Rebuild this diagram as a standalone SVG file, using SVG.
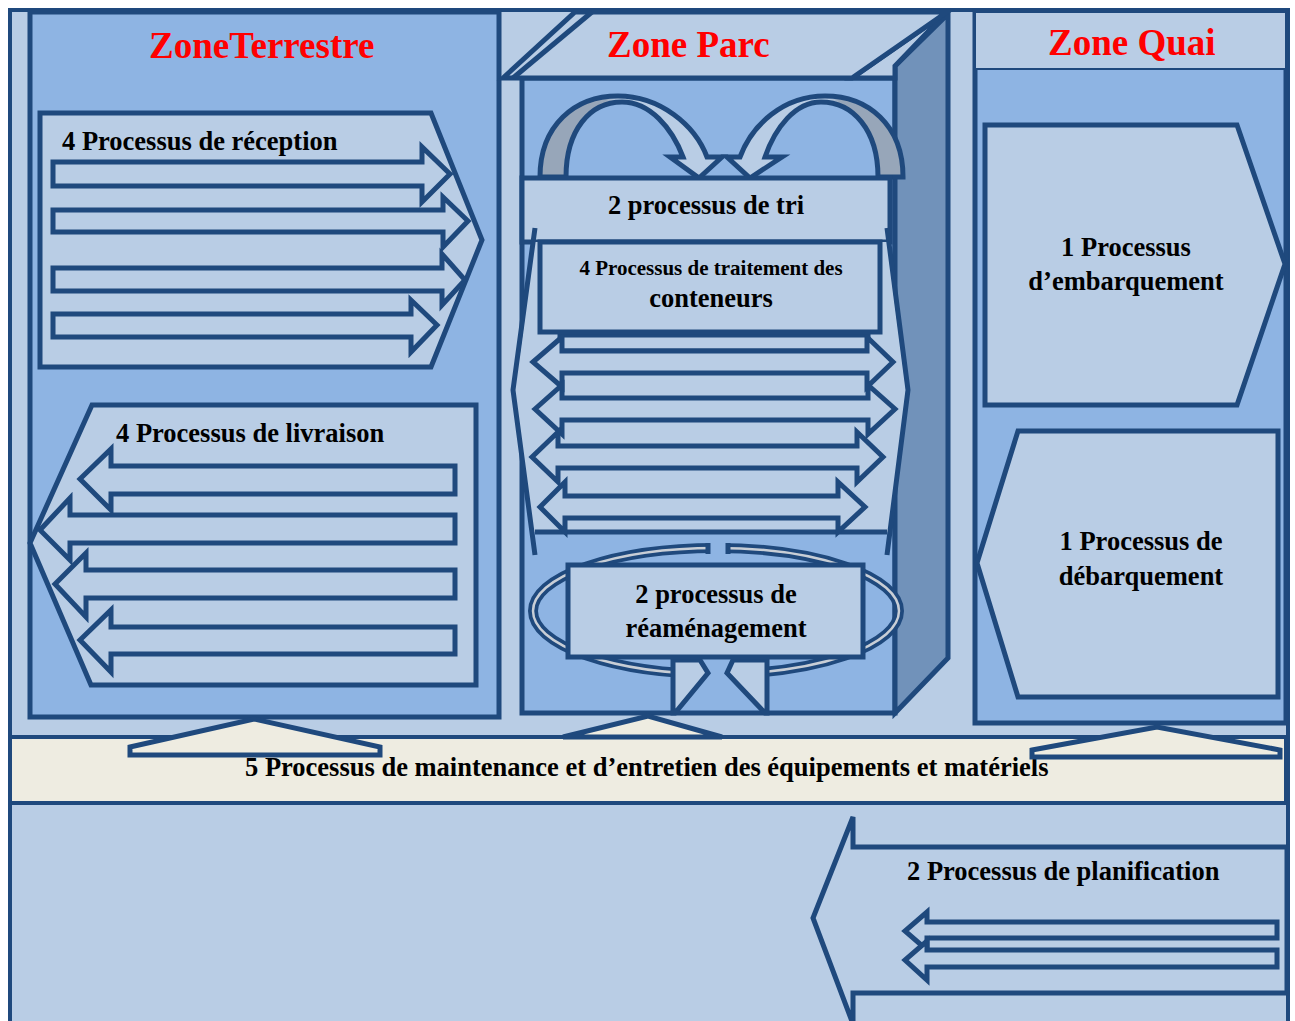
<svg xmlns="http://www.w3.org/2000/svg" width="1295" height="1021" viewBox="0 0 1295 1021">
<style>
.s{stroke:#1F497D;stroke-width:5;stroke-linejoin:miter}
.s4{stroke:#1F497D;stroke-width:4}
.s2{stroke:#1F497D;stroke-width:2}
.lt{fill:#B9CDE5}
.md{fill:#8EB4E3}
.side{fill:#7192BA}
.bg{fill:#EEECE1}
.no{fill:none}
.t{font-family:"Liberation Serif","Times New Roman",serif;font-weight:bold;font-size:26.5px;fill:#000}
.ti{font-family:"Liberation Serif","Times New Roman",serif;font-weight:bold;font-size:37px;fill:#FF0000}
.c{text-anchor:middle}
</style>
<defs>
<linearGradient id="gl" x1="0" y1="0" x2="1" y2="0">
<stop offset="0" stop-color="#97A6B9"/><stop offset="0.36" stop-color="#97A6B9"/><stop offset="0.42" stop-color="#B9CDE5"/><stop offset="1" stop-color="#B9CDE5"/>
</linearGradient>
<linearGradient id="gr" x1="1" y1="0" x2="0" y2="0">
<stop offset="0" stop-color="#97A6B9"/><stop offset="0.36" stop-color="#97A6B9"/><stop offset="0.42" stop-color="#B9CDE5"/><stop offset="1" stop-color="#B9CDE5"/>
</linearGradient>
</defs>

<rect id="frame" x="10" y="10" width="1278" height="1025" class="lt s4"/>

<g id="zone-terrestre">
<rect x="30" y="12" width="469" height="705" class="md s"/>
<text x="149" y="58" class="ti">ZoneTerrestre</text>
</g>

<g id="reception">
<polygon points="40,113 431,113 482,240 431,367 40,367" class="lt s"/>
<text x="62" y="150" class="t">4 Processus de réception</text>
<polygon points="53,162 422,162 422,147 450,174 422,202 422,186 53,186" class="lt s"/>
<polygon points="53,210 443,210 443,197 468,221 443,247 443,232 53,232" class="lt s"/>
<polygon points="53,268 442,268 442,254 465,280 442,305 442,291 53,291" class="lt s"/>
<polygon points="53,314 411,314 411,300 437,325 411,352 411,337 53,337" class="lt s"/>
</g>

<g id="livraison">
<polygon points="92,405 476,405 476,685 91,685 30,543" class="lt s"/>
<text x="116" y="442" class="t">4 Processus de livraison</text>
<polygon points="455,466 111,466 111,449 80,479 111,510 111,494 455,494" class="lt s"/>
<polygon points="455,515 70,515 70,498 40,530 70,560 70,543 455,543" class="lt s"/>
<polygon points="455,570 86,570 86,553 55,584 86,617 86,598 455,598" class="lt s"/>
<polygon points="455,627 111,627 111,610 80,640 111,672 111,654 455,654" class="lt s"/>
</g>

<g id="zone-parc">
<rect x="522" y="78" width="373" height="635" class="md s"/>
<polygon points="895,66 948,14 948,658 895,713" class="side s"/>
<polygon points="852,78 947,12 895,66 895,78" class="lt s"/>
<polygon points="503,78 575,12 947,12 852,78" class="lt s"/>
<line x1="513" y1="78" x2="592" y2="12" class="s"/>
<text x="607" y="57" class="ti">Zone Parc</text>
</g>

<g id="tri">
<path d="M540,177 C540,125 575,96 618,96 C660,96 695,125 707,157 L722,157 L699,178 L670,157 L683,157 C672,128 650,102 622,102 C590,102 566,130 566,177 Z" fill="url(#gl)" class="s"/>
<path d="M903,177 C903,125 868,96 825,96 C783,96 752,125 740,157 L727,157 L750,178 L782,157 L765,157 C775,128 795,102 821,102 C853,102 878,130 878,177 Z" fill="url(#gr)" class="s"/>
<rect x="522" y="178" width="368" height="64" class="lt s"/>
<text x="706" y="214" class="t c">2 processus de tri</text>
</g>

<g id="traitement">
<polygon points="535,242 887,242 906,390 889,532 533,532 515,390" class="lt"/>
<polyline points="535,228 513,390 535,555" class="no s"/>
<polyline points="887,228 908,390 887,555" class="no s"/>
<line x1="535" y1="532" x2="887" y2="532" class="s"/>
<rect x="560" y="335" width="308" height="16" class="lt s"/>
<polygon points="533,362 562,337 562,351 867,351 867,337 893,362 867,387 867,373 562,373 562,387" class="lt s"/>
<polygon points="535,409 562,385 562,398 868,398 868,385 895,409 868,434 868,420 562,420 562,434" class="lt s"/>
<polygon points="532,457 558,432 558,446 857,446 857,432 883,457 857,482 857,468 558,468 558,482" class="lt s"/>
<polygon points="540,507 565,482 565,496 838,496 838,482 865,507 838,532 838,518 565,518 565,532" class="lt s"/>
<rect x="540" y="242" width="340" height="90" class="lt s"/>
<text x="711" y="275" class="t c" style="font-size:21px">4 Processus de traitement des</text>
<text x="711" y="307" class="t c">conteneurs</text>
</g>

<g id="reamenagement">
<ellipse cx="716" cy="611" rx="183" ry="63" class="no" stroke="#1F497D" stroke-width="10"/>
<ellipse cx="716" cy="611" rx="183" ry="63" class="no" stroke="#C8CED6" stroke-width="2.5"/>
<rect x="710" y="538" width="16" height="20" class="md"/>
<line x1="708" y1="543" x2="708" y2="554" class="s"/>
<line x1="728" y1="543" x2="728" y2="554" class="s"/>
<rect x="700" y="662" width="33" height="24" class="md"/>
<polygon points="673,660 700,660 708,673 675,713 673,713" class="lt s"/>
<polygon points="767,660 733,660 727,673 765,713 767,713" class="lt s"/>
<rect x="568" y="565" width="295" height="92" class="lt s"/>
<text x="716" y="603" class="t c">2 processus de</text>
<text x="716" y="637" class="t c">réaménagement</text>
</g>

<g id="zone-quai">
<rect x="975" y="12" width="311" height="711" class="md s"/>
<rect x="975" y="12" width="311" height="57" class="lt s2"/>
<text x="1048" y="55" class="ti">Zone Quai</text>
</g>

<g id="embarquement">
<polygon points="985,125 1237,125 1285,264 1237,405 985,405" class="lt s"/>
<text x="1126" y="256" class="t c">1 Processus</text>
<text x="1126" y="290" class="t c">d’embarquement</text>
</g>

<g id="debarquement">
<polygon points="1018,431 1278,431 1278,697 1018,697 977,563" class="lt s"/>
<text x="1141" y="550" class="t c">1 Processus de</text>
<text x="1141" y="585" class="t c">débarquement</text>
</g>

<g id="maintenance">
<rect x="10" y="737" width="1276" height="66" class="bg s4"/>
<text x="245" y="776" class="t">5 Processus de maintenance et d’entretien des équipements et matériels</text>
</g>

<g id="connectors">
<polygon points="130,747 254,719 380,747 380,755 130,755" class="bg s"/>
<polygon points="563,737 648,716 722,737" class="bg s"/>
<polygon points="1032,750 1157,727 1280,750 1280,757 1032,757" class="bg s"/>
</g>

<g id="planification">
<polygon points="1287,847 853,847 853,817 813,918 853,1024 853,993 1287,993" class="lt s"/>
<text x="907" y="880" class="t">2 Processus de planification</text>
<polygon points="1277,922 927,922 927,912 905,931 927,950 927,938 1277,938" class="lt s"/>
<polygon points="1277,950 927,950 927,941 905,960 927,980 927,967 1277,967" class="lt s"/>
</g>
</svg>
